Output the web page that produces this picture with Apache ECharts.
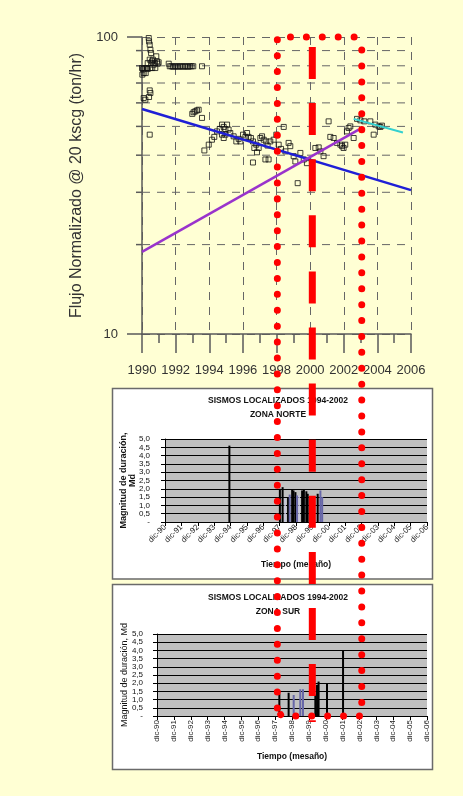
<!DOCTYPE html>
<html>
<head>
<meta charset="utf-8">
<script src="https://cdn.jsdelivr.net/npm/echarts@6.0.0/dist/echarts.min.js"></script>
<style>
  html, body { margin: 0; padding: 0; background: #ffffd4; }
  #chart { width: 463px; height: 796px; }
</style>
</head>
<body>
<div id="chart"></div>
<script>
// flujo normalizado (ton/hr) vs año
const flowPoints = [
  [1990.00, 78.6], [1990.06, 78.0], [1990.14, 78.6], [1990.22, 75.6], [1990.26, 78.6], [1990.34, 78.0],
  [1990.40, 99.2], [1990.42, 96.7], [1990.46, 94.2], [1990.50, 90.6], [1990.54, 88.3], [1990.46, 83.9],
  [1990.54, 81.7], [1990.59, 82.8], [1990.65, 83.9], [1990.69, 80.7], [1990.77, 81.7], [1990.85, 86.1],
  [1990.89, 82.8], [1990.93, 81.3], [1990.99, 82.2], [1990.79, 78.6], [1990.61, 78.6], [1990.50, 78.6],
  [1990.34, 81.7], [1990.10, 75.6], [1990.02, 74.7], [1990.10, 62.3], [1990.20, 61.5], [1990.46, 66.1],
  [1990.50, 64.8], [1990.42, 62.8], [1990.46, 46.9], [1990.30, 78.6],
  [1991.59, 81.3], [1991.65, 79.7], [1991.75, 79.7], [1991.85, 79.4], [1991.95, 79.7], [1992.05, 79.7],
  [1992.15, 79.4], [1992.25, 79.7], [1992.35, 79.7], [1992.45, 79.4], [1992.55, 79.7], [1992.65, 79.7],
  [1992.75, 79.4], [1992.85, 79.7], [1992.95, 79.7], [1993.05, 79.7], [1993.57, 79.7],
  [1992.99, 55.1], [1993.07, 55.8], [1993.17, 56.2], [1993.27, 56.6], [1993.37, 56.9], [1993.57, 53.4],
  [1993.71, 41.5],
  [1993.97, 43.4], [1994.16, 45.1], [1994.30, 46.1], [1994.46, 48.1], [1994.62, 49.0], [1994.76, 50.7],
  [1994.86, 49.8], [1994.96, 49.0], [1995.06, 50.7], [1995.15, 48.8], [1994.86, 45.7], [1994.76, 46.9],
  [1994.96, 46.9], [1995.25, 47.5], [1995.45, 46.3], [1995.61, 44.5], [1995.75, 45.4], [1995.85, 44.5],
  [1996.01, 46.9], [1996.15, 46.1], [1996.25, 47.5], [1996.34, 46.1], [1996.48, 45.7], [1996.60, 44.5],
  [1996.68, 42.3], [1996.80, 43.4], [1996.84, 40.9], [1996.94, 42.3], [1997.04, 45.7], [1997.14, 46.3],
  [1997.24, 45.1], [1997.39, 44.5], [1997.47, 43.1], [1997.34, 38.7], [1997.53, 38.7], [1996.60, 37.8],
  [1997.63, 44.5], [1997.83, 45.1], [1997.99, 46.9], [1998.13, 43.4], [1998.27, 42.0], [1998.43, 49.8],
  [1998.53, 41.2], [1998.72, 44.0], [1998.82, 42.9], [1999.02, 39.7], [1999.12, 38.1], [1999.26, 32.2],
  [1999.42, 40.7], [1999.62, 38.7], [1999.81, 37.6], [2000.31, 42.3], [2000.51, 42.5], [2000.61, 41.2],
  [2000.80, 39.7], [2001.10, 52.0], [2001.20, 46.1], [2001.40, 45.7], [2001.60, 44.0], [2001.80, 43.4],
  [2001.90, 42.9], [2001.99, 42.3], [2002.09, 43.4], [2002.19, 48.1], [2002.29, 49.4], [2002.39, 50.0],
  [2002.59, 45.7], [2002.79, 53.0], [2002.99, 52.4], [2003.22, 52.0], [2003.58, 52.0], [2003.88, 50.7],
  [2004.08, 50.0], [2004.18, 49.8], [2004.27, 50.3], [2003.78, 46.9]
]
const blueTrend = [[1990, 57.2], [2006, 30.5]]
const purpleTrend = [[1990, 18.9], [2002.89, 48.8]]
const cyanTrend = [[2002.59, 53.0], [2005.52, 47.7]]
const flowGridValues = [20, 30, 40, 50, 60, 70, 80, 90]

// sismos: [meses desde dic-90, magnitud]
const monthLabels = ['dic-90', 'dic-91', 'dic-92', 'dic-93', 'dic-94', 'dic-95', 'dic-96', 'dic-97', 'dic-98',
  'dic-99', 'dic-00', 'dic-01', 'dic-02', 'dic-03', 'dic-04', 'dic-05', 'dic-06']
const magnitudeLabels = ['-', '0,5', '1,0', '1,5', '2,0', '2,5', '3,0', '3,5', '4,0', '4,5', '5,0']

const norteEventsA = [[47, 4.6], [84, 2.0], [86, 2.1], [90, 1.45], [93, 1.95], [94, 1.9], [95.4, 1.8],
  [100.3, 1.9], [101.6, 1.95], [103.4, 1.85], [104.4, 1.7], [111.7, 1.7]]
const norteEventsB = [[91.2, 1.65], [96.6, 1.6], [113.7, 1.9], [115, 1.5]]
const norteEventsC = [[88, 1.4], [98.3, 1.6]]

const surEventsA = [[87, 1.35], [93.6, 1.42], [112.6, 1.3], [113.8, 1.9], [114.9, 2.1], [120.9, 2.0], [132.3, 4.0]]
const surEventsB = [[97.2, 1.28], [101.9, 1.63], [103.8, 1.63]]

// periodo resaltado (rojo)
const highlightYears = [1998.05, 2003.07]
const markerYear = 2000.13

const FONT = 'Arial, "Liberation Sans", sans-serif'
const chart = echarts.init(document.getElementById('chart'))

function quakeXAxis(gridIndex, rotate) {
  return {
    type: 'value', gridIndex, min: 0, max: 192, interval: 12,
    name: 'Tiempo (mesaño)', nameLocation: 'middle', nameGap: rotate === 90 ? 36 : 38,
    nameTextStyle: { fontFamily: FONT, fontSize: 8.5, fontWeight: 'bold', color: '#111' },
    axisLine: { lineStyle: { color: '#000', width: 1 } },
    axisTick: { length: 4, lineStyle: { color: '#000' } },
    axisLabel: {
      rotate, margin: 4, fontFamily: FONT, fontSize: 8, color: '#222',
      formatter: v => monthLabels[Math.round(v / 12)] || ''
    },
    splitLine: { show: false }
  }
}

function quakeYAxis(gridIndex, margin) {
  return {
    type: 'value', gridIndex, min: 0, max: 5, interval: 0.5,
    axisLine: { show: true, lineStyle: { color: '#000', width: 1 } },
    axisTick: { show: true, length: 4, lineStyle: { color: '#000' } },
    axisLabel: {
      margin, fontFamily: FONT, fontSize: 8, color: '#111',
      formatter: v => magnitudeLabels[Math.round(v * 2)]
    },
    splitLine: { show: true, lineStyle: { color: '#000', width: 1 } }
  }
}

function barSeries(xAxisIndex, data, color, width) {
  return {
    type: 'bar', xAxisIndex, yAxisIndex: xAxisIndex, data,
    barWidth: width, barGap: '-100%', silent: true,
    itemStyle: { color, borderWidth: 0 }
  }
}

const titleStyle = { fontFamily: FONT, fontSize: 8.5, fontWeight: 'bold', color: '#111', lineHeight: 13.5 }

chart.setOption({
  backgroundColor: '#ffffd4',
  animation: false,
  title: [
    { text: 'SISMOS LOCALIZADOS 1994-2002\nZONA NORTE', left: 273, textAlign: 'center', top: 389, textStyle: titleStyle },
    { text: 'SISMOS LOCALIZADOS 1994-2002\nZONA SUR', left: 273, textAlign: 'center', top: 586, textStyle: titleStyle }
  ],
  graphic: [
    { id: 'boxNorte', type: 'rect', z: -1, shape: { x: 112.5, y: 388.5, width: 320, height: 190.5 },
      style: { fill: '#ffffff', stroke: '#6a6a6a', lineWidth: 1.5 } },
    { id: 'boxSur', type: 'rect', z: -1, shape: { x: 112.5, y: 584.5, width: 320, height: 185 },
      style: { fill: '#ffffff', stroke: '#6a6a6a', lineWidth: 1.5 } }
  ],
  grid: [
    { left: 142, top: 37, width: 269, height: 297 },
    { left: 165, top: 439, width: 262, height: 83, show: true, backgroundColor: '#c0c0c0', borderWidth: 0 },
    { left: 157, top: 634, width: 270, height: 82, show: true, backgroundColor: '#c0c0c0', borderWidth: 0 }
  ],
  xAxis: [
    {
      type: 'value', gridIndex: 0, min: 1990, max: 2006, interval: 2,
      axisLine: { lineStyle: { color: '#5a5a5a', width: 1.5 } },
      axisTick: { length: 19, lineStyle: { color: '#5a5a5a', width: 1.5 } },
      minorTick: { show: true, splitNumber: 2, length: 9, lineStyle: { color: '#5a5a5a', width: 1.5 } },
      axisLabel: { margin: 30, fontFamily: FONT, fontSize: 13, color: '#333', formatter: v => String(v) },
      splitLine: { show: true, lineStyle: { color: '#666', width: 1, type: [8, 7] } }
    },
    quakeXAxis(1, 45),
    quakeXAxis(2, 90)
  ],
  yAxis: [
    {
      type: 'log', logBase: 10, gridIndex: 0, min: 10, max: 100,
      name: 'Flujo Normalizado @ 20 kscg (ton/hr)', nameLocation: 'middle', nameGap: 57,
      nameTextStyle: { fontFamily: FONT, fontSize: 16, color: '#333' },
      axisLine: { show: true, lineStyle: { color: '#5a5a5a', width: 1.5 } },
      axisTick: { show: true, length: 15, lineStyle: { color: '#5a5a5a', width: 1.5 } },
      axisLabel: { margin: 24, fontFamily: FONT, fontSize: 13, color: '#333', formatter: v => String(v) },
      splitLine: { show: true, lineStyle: { color: '#666', width: 1, type: [8, 7] } }
    },
    quakeYAxis(1, 15),
    quakeYAxis(2, 14)
  ],
  series: [
    {
      type: 'custom', xAxisIndex: 0, yAxisIndex: 0, silent: true, clip: false, z: 1,
      data: flowGridValues.map(v => [1990, v]),
      renderItem: (params, api) => {
        const y = api.coord([1990, api.value(1)])[1]
        const x0 = params.coordSys.x
        const x1 = x0 + params.coordSys.width
        return {
          type: 'group',
          children: [
            { type: 'line', shape: { x1: x0 - 6, y1: y, x2: x0, y2: y }, style: { stroke: '#5a5a5a', lineWidth: 1.5 } },
            { type: 'line', shape: { x1: x0, y1: y, x2: x1, y2: y }, style: { stroke: '#666', lineWidth: 1, lineDash: [8, 7] } }
          ]
        }
      }
    },
    {
      type: 'scatter', xAxisIndex: 0, yAxisIndex: 0, data: flowPoints, symbol: 'rect', symbolSize: [5, 5], z: 3,
      itemStyle: { color: 'rgba(255,255,255,0)', borderColor: '#111', borderWidth: 1 }
    },
    { type: 'line', xAxisIndex: 0, yAxisIndex: 0, data: blueTrend, showSymbol: false, z: 4, lineStyle: { color: '#1f1fd6', width: 2.5 } },
    { type: 'line', xAxisIndex: 0, yAxisIndex: 0, data: purpleTrend, showSymbol: false, z: 4, lineStyle: { color: '#9933cc', width: 2.5 } },
    { type: 'line', xAxisIndex: 0, yAxisIndex: 0, data: cyanTrend, showSymbol: false, z: 4, lineStyle: { color: '#33d0d0', width: 2 } },
    barSeries(1, norteEventsA, '#000000', 2),
    barSeries(1, norteEventsB, '#6666a8', 2),
    barSeries(1, norteEventsC, '#c8c8e0', 1.5),
    barSeries(2, surEventsA, '#000000', 2),
    barSeries(2, surEventsB, '#6666a8', 2)
  ]
})

// recuadro rojo punteado y linea discontinua sobre los tres graficos
const xL = chart.convertToPixel({ xAxisIndex: 0 }, highlightYears[0])
const xR = chart.convertToPixel({ xAxisIndex: 0 }, highlightYears[1])
const xM = chart.convertToPixel({ xAxisIndex: 0 }, markerYear)
const topY = chart.convertToPixel({ yAxisIndex: 0 }, 100)
const bottomY = chart.convertToPixel({ yAxisIndex: 2 }, 0)
const norteMidY = chart.convertToPixel({ yAxisIndex: 1 }, 2.5)
const surMidY = chart.convertToPixel({ yAxisIndex: 2 }, 2.5)

chart.setOption({
  graphic: [
    {
      id: 'norteYName', type: 'text', x: 128, y: norteMidY, rotation: Math.PI / 2, z: 5,
      style: {
        text: 'Magnitud de duración,\nMd', align: 'center', verticalAlign: 'middle', lineHeight: 9,
        font: 'bold 9px ' + FONT, fill: '#111'
      }
    },
    {
      id: 'surYName', type: 'text', x: 125, y: surMidY, rotation: Math.PI / 2, z: 5,
      style: {
        text: 'Magnitud de duración, Md', align: 'center', verticalAlign: 'middle',
        font: '9px ' + FONT, fill: '#111'
      }
    },
    {
      id: 'highlightBox', type: 'polygon', z: 100, silent: true,
      shape: { points: [[xL, bottomY - 8], [xL, topY], [xR - 7, topY], [xR, topY + 10], [xR, bottomY], [xL + 4, bottomY]] },
      style: { fill: null, stroke: '#ff0000', lineWidth: 7, lineCap: 'round', lineDash: [0.01, 15.9] }
    },
    {
      id: 'markerLine', type: 'line', z: 100, silent: true,
      shape: { x1: xM, y1: topY + 10, x2: xM, y2: bottomY + 6 },
      style: { stroke: '#ff0000', lineWidth: 7, lineCap: 'butt', lineDash: [32, 24.1] }
    }
  ]
})
</script>
</body>
</html>
